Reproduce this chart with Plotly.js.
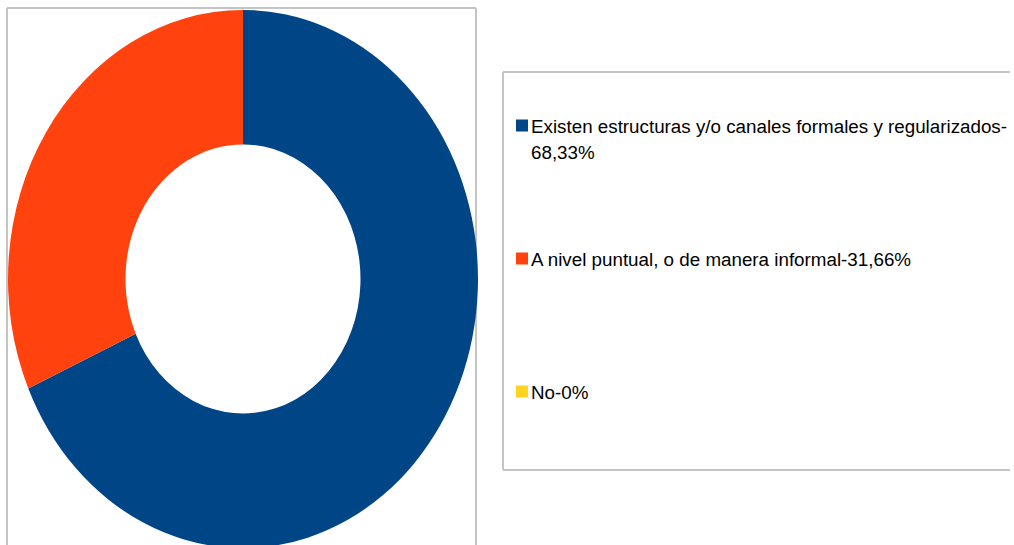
<!DOCTYPE html>
<html>
<head>
<meta charset="utf-8">
<script src="https://cdn.plot.ly/plotly-3.0.1.min.js"></script>
<style>
html, body { margin: 0; padding: 0; background: #ffffff; overflow: hidden; }
#chart { width: 1014px; height: 545px; }
/* the original donut is drawn slightly taller than wide */
#chart .pielayer { transform-origin: 243px 279px; transform: scale(1, 1.145); }
/* legend swatch sits close to its text, as in the original */
#chart .legend path.legendpie { transform: translate(31px, 0px); }
</style>
</head>
<body>
<div id="chart"></div>
<script>
// ---- data ----
const categories = [
  'Existen estructuras y/o canales formales y regularizados',
  'A nivel puntual, o de manera informal',
  'No'
];
const percentLabels = ['68,33%', '31,66%', '0%'];
const values = [68.33, 31.66, 0];
const colors = ['#004586', '#ff420e', '#ffd320'];

// ---- layout helpers ----
const W = 1014, H = 545;
const px = x => x / W;
const py = y => 1 - y / H;

const wrapBeforePercent = [true, false, false];
const padLines = [3, 4, 0];
const legendText = categories.map((c, i) => {
  let t = '<span style="font-size:18.8px">' + c + '-' +
          (wrapBeforePercent[i] ? '</span><br><span style="font-size:18.8px">' : '') +
          percentLabels[i] + '</span>';
  for (let k = 0; k < padLines[i]; k++) t += '<br> ';
  return t;
});

const trace = {
  type: 'pie',
  labels: legendText,
  values: values,
  hole: 0.5,
  sort: false,
  direction: 'clockwise',
  rotation: 0,
  textinfo: 'none',
  hovertemplate: '%{label}<extra></extra>',
  marker: { colors: colors, line: { width: 0 } },
  domain: { x: [px(8), px(478)], y: [py(514), py(44)] },
  showlegend: true
};

// frames that run off the picture edge, as in the original
const frameLine = (x0, y0, x1, y1) => ({
  type: 'line', xref: 'paper', yref: 'paper',
  x0: px(x0), y0: py(y0), x1: px(x1), y1: py(y1),
  line: { color: '#c4c4c4', width: 2 }, layer: 'below'
});

const layout = {
  width: W,
  height: H,
  margin: { l: 0, r: 0, t: 0, b: 0, autoexpand: false },
  paper_bgcolor: '#ffffff',
  plot_bgcolor: '#ffffff',
  font: { family: '"Liberation Sans", Arial, sans-serif', color: '#000000' },
  showlegend: true,
  legend: {
    x: px(491),
    xanchor: 'left',
    y: py(106),
    yanchor: 'top',
    bgcolor: 'rgba(0,0,0,0)',
    borderwidth: 0,
    valign: 'top',
    itemclick: false,
    itemdoubleclick: false,
    font: { size: 20, color: '#000000', family: '"Liberation Sans", Arial, sans-serif' }
  },
  shapes: [
    frameLine(7, 8, 7, 545),
    frameLine(7, 8, 476, 8),
    frameLine(476, 8, 476, 545),
    frameLine(503, 72, 1010, 72),
    frameLine(503, 72, 503, 470),
    frameLine(503, 470, 1010, 470)
  ]
};

Plotly.newPlot('chart', [trace], layout, { displayModeBar: false });
</script>
</body>
</html>
